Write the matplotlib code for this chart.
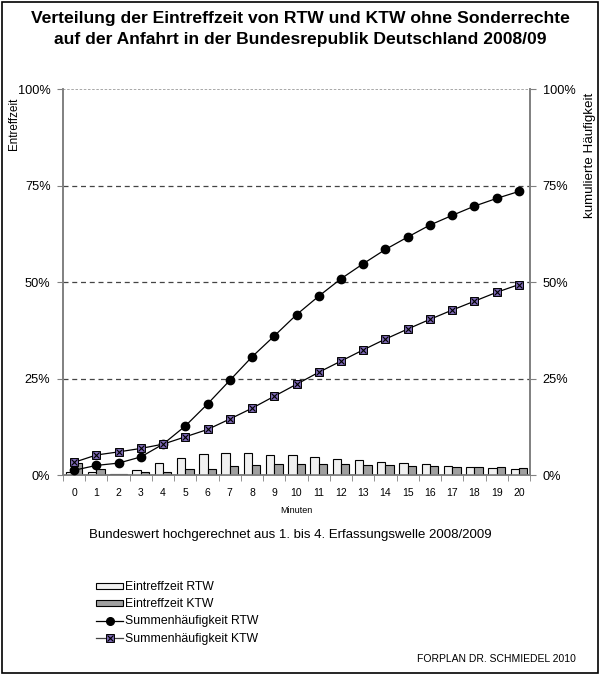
import matplotlib.pyplot as plt
import numpy as np
from matplotlib.patches import Patch, Rectangle
from matplotlib.lines import Line2D
from matplotlib.ticker import PercentFormatter, FixedLocator

plt.rcParams['font.family'] = ['Liberation Sans', 'DejaVu Sans']

minuten = np.arange(0, 21)
# Eintreffzeit je Minute (%)
rtw = [1.0, 1.0, 0.5, 1.3, 3.2, 4.5, 5.6, 5.9, 5.9, 5.3, 5.3,
       4.8, 4.2, 4.0, 3.5, 3.2, 2.9, 2.4, 2.2, 1.9, 1.6]
ktw = [3.1, 1.8, 0.5, 0.8, 1.0, 1.6, 1.8, 2.4, 2.7, 2.9, 2.9,
       2.9, 2.9, 2.6, 2.7, 2.4, 2.4, 2.2, 2.2, 2.2, 1.9]
# Summenhaeufigkeit (%)
sum_rtw = [1.35, 2.6, 3.2, 4.8, 8.1, 12.8, 18.5, 24.6, 30.7, 36.1, 41.6,
           46.4, 50.9, 54.8, 58.5, 61.7, 64.8, 67.3, 69.7, 71.7, 73.5]
sum_ktw = [3.4, 5.3, 6.1, 7.0, 8.1, 10.0, 11.9, 14.6, 17.4, 20.5, 23.6,
           26.7, 29.6, 32.5, 35.3, 37.9, 40.4, 42.8, 45.1, 47.4, 49.4]

farbe_rtw = "#f0f0f0"
farbe_ktw = "#a0a0a0"
farbe_marker = "#7a66b0"
grau = "#808080"

fig = plt.figure(figsize=(6.01, 6.75), dpi=100)
ax1 = fig.add_axes([0.1048, 0.2956, 0.7771, 0.5725])

b = 0.375
ax1.bar(minuten - b / 2, rtw, width=b, color=farbe_rtw, edgecolor="black", linewidth=0.8, zorder=3)
ax1.bar(minuten + b / 2, ktw, width=b, color=farbe_ktw, edgecolor="black", linewidth=0.8, zorder=3)
ax1.set_xlim(-0.5, 20.5)
ax1.set_ylim(0, 100)
ax1.yaxis.set_major_locator(FixedLocator([0, 25, 50, 75, 100]))
ax1.yaxis.set_major_formatter(PercentFormatter(decimals=0))
for y in [25, 50, 75]:
    ax1.axhline(y, color="#444444", linestyle=(0, (4, 3)), linewidth=0.9, zorder=1)
ax1.axhline(100, color="#999999", linestyle=(0, (1.5, 1)), linewidth=1.2, zorder=1)

ax1.set_xticks(minuten)
ax1.set_xticks(np.arange(-0.5, 21), minor=True)
ax1.tick_params(axis="x", which="major", length=0, pad=9, labelsize=7.5)
ax1.tick_params(axis="x", which="minor", length=4, color=grau, direction="out")
ax1.tick_params(axis="y", length=4, color=grau, labelsize=9.2, pad=5)
ax1.set_xlabel("Minuten", fontsize=6.5, labelpad=6)
for s in ["left", "right", "bottom"]:
    ax1.spines[s].set_color(grau)
    ax1.spines[s].set_linewidth(1.2)
ax1.spines["top"].set_visible(False)

ax2 = ax1.twinx()
ax2.set_ylim(0, 100)
ax2.yaxis.set_major_locator(FixedLocator([0, 25, 50, 75, 100]))
ax2.yaxis.set_major_formatter(PercentFormatter(decimals=0))
ax2.tick_params(axis="y", length=4, color=grau, labelsize=9.2, pad=5)
for s in ["left", "right", "bottom"]:
    ax2.spines[s].set_color(grau)
    ax2.spines[s].set_linewidth(1.2)
ax2.spines["top"].set_visible(False)

ax2.plot(minuten, sum_rtw, color="black", linewidth=0.9, marker="o", markersize=6, zorder=5)
ax2.plot(minuten, sum_ktw, color="black", linewidth=0.9, marker="s", markersize=5.8,
         markerfacecolor=farbe_marker, markeredgecolor="black", markeredgewidth=0.7, zorder=5)
ax2.plot(minuten, sum_ktw, linestyle="none", marker="x", markersize=4.2, color="black",
         markeredgewidth=0.8, zorder=6)

fig.text(0.024, 0.855, "Entreffzeit", rotation=90, ha="center", va="top", fontsize=8.4)
fig.text(0.982, 0.862, "kumulierte Häufigkeit", rotation=90, ha="center", va="top", fontsize=9.6)

fig.text(0.5, 0.984, "Verteilung der Eintreffzeit von RTW und KTW ohne Sonderrechte\n"
         "auf der Anfahrt in der Bundesrepublik Deutschland 2008/09",
         ha="center", va="top", fontsize=12.6, fontweight="bold", linespacing=1.55)

fig.text(0.483, 0.207, "Bundeswert hochgerechnet aus 1. bis 4. Erfassungswelle 2008/2009",
         ha="center", va="center", fontsize=9.5)

handles = [
    Patch(facecolor=farbe_rtw, edgecolor="black", linewidth=0.8),
    Patch(facecolor=farbe_ktw, edgecolor="black", linewidth=0.8),
    Line2D([], [], color="black", linewidth=0.9, marker="o", markersize=5.5),
    (Line2D([], [], color="#444444", linewidth=0.9, marker="s", markersize=5.5,
            markerfacecolor=farbe_marker, markeredgecolor="black", markeredgewidth=0.7),
     Line2D([], [], linestyle="none", marker="x", markersize=4, color="black", markeredgewidth=0.8)),
]
labels = ["Eintreffzeit RTW", "Eintreffzeit KTW", "Summenhäufigkeit RTW", "Summenhäufigkeit KTW"]
fig.legend(handles, labels, loc="upper left", bbox_to_anchor=(0.150, 0.148),
           frameon=False, fontsize=8.8, handlelength=2.2, handleheight=0.45,
           handletextpad=0.15, labelspacing=0.42, borderpad=0)

fig.text(0.958, 0.024, "FORPLAN DR. SCHMIEDEL 2010", ha="right", va="center", fontsize=7.5)

fig.add_artist(Rectangle((0.004, 0.003), 0.991, 0.994, transform=fig.transFigure,
                         fill=False, edgecolor="black", linewidth=1.2))

fig.savefig("out.png", dpi=100)
